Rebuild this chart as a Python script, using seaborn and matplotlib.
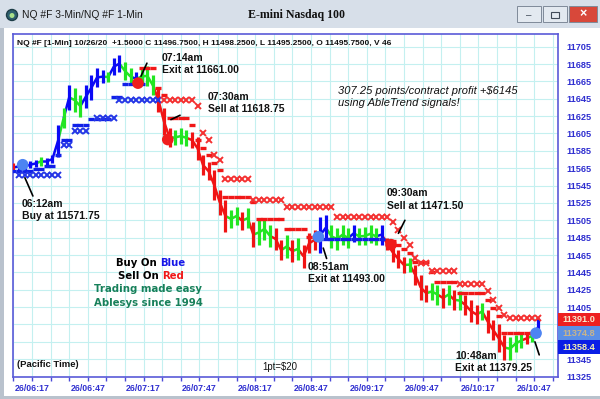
import numpy as np
import pandas as pd
import seaborn as sns
import matplotlib.pyplot as plt
from matplotlib.patches import Rectangle, Ellipse
from matplotlib.collections import LineCollection
import matplotlib.transforms as mtransforms

# 3-min bars, x = minutes after 06:00
bar_min = list(range(7, 290, 3))
bar_high = [11571, 11572, 11571, 11573, 11575, 11578, 11577, 11580, 11615, 11634,
            11661, 11657, 11649, 11661, 11672, 11680, 11678, 11676, 11692, 11695,
            11687, 11680, 11676, 11680, 11683, 11672, 11657, 11634, 11611, 11609,
            11611, 11609, 11607, 11601, 11580, 11572, 11563, 11540, 11528, 11517,
            11520, 11515, 11519, 11503, 11505, 11508, 11500, 11496, 11482, 11488,
            11482, 11485, 11477, 11490, 11494, 11509, 11511, 11500, 11496, 11500,
            11496, 11500, 11496, 11497, 11500, 11496, 11500, 11485, 11479, 11471,
            11463, 11462, 11454, 11442, 11431, 11433, 11431, 11427, 11431, 11425,
            11423, 11419, 11413, 11408, 11410, 11402, 11390, 11385, 11373, 11370,
            11373, 11375, 11376, 11379, 11393]
bar_low = [11561, 11562, 11563, 11565, 11566, 11568, 11569, 11571, 11578, 11611,
           11632, 11630, 11624, 11634, 11644, 11659, 11663, 11664, 11672, 11676,
           11667, 11661, 11660, 11661, 11660, 11649, 11630, 11603, 11589, 11592,
           11593, 11591, 11588, 11575, 11557, 11551, 11528, 11511, 11492, 11496,
           11500, 11494, 11496, 11474, 11477, 11482, 11474, 11471, 11459, 11462,
           11457, 11459, 11450, 11467, 11471, 11467, 11482, 11473, 11471, 11477,
           11473, 11480, 11477, 11477, 11479, 11477, 11477, 11471, 11457, 11450,
           11444, 11446, 11431, 11413, 11411, 11413, 11408, 11404, 11408, 11402,
           11402, 11396, 11388, 11385, 11390, 11375, 11367, 11353, 11344, 11344,
           11353, 11358, 11362, 11365, 11370]
bar_trend = ("rbbbbgbbbg" "bggbbbbgbb" "ggbgggrrrg" "ggrrrrrrrg" "grgrgggrrg"
             "rgrrrbbggg" "gbggggbrrr" "rgrrrggrgr" "grrrgrrrrg" "ggrgb")

# stop levels: (first bar minute, last bar minute, price)
blue_fast = [(7, 16, 11562), (19, 22, 11564), (25, 28, 11568), (31, 31, 11580),
             (34, 37, 11598), (40, 46, 11615), (49, 58, 11622), (61, 64, 11647),
             (67, 76, 11662), (172, 205, 11484)]
blue_slow = [(10, 31, 11557), (34, 37, 11592), (40, 46, 11608), (52, 61, 11623),
             (64, 85, 11644)]
red_fast = [(76, 82, 11680), (85, 85, 11657), (88, 88, 11649), (91, 100, 11623),
            (103, 103, 11615), (106, 106, 11598), (109, 109, 11588), (112, 112, 11580),
            (115, 115, 11571), (118, 118, 11563), (121, 133, 11532), (136, 136, 11526),
            (139, 151, 11507), (154, 163, 11495), (166, 169, 11486), (211, 211, 11481),
            (214, 214, 11477), (217, 217, 11472), (220, 220, 11467), (223, 229, 11457),
            (232, 232, 11446), (235, 244, 11434), (247, 259, 11421), (262, 262, 11413),
            (265, 265, 11404), (268, 268, 11395), (271, 286, 11375)]
red_slow = [(88, 103, 11644), (106, 106, 11637), (109, 109, 11606), (112, 112, 11598),
            (115, 115, 11580), (118, 118, 11575), (121, 133, 11553), (136, 151, 11528),
            (154, 178, 11520), (181, 208, 11509), (211, 211, 11503), (214, 214, 11494),
            (217, 217, 11485), (220, 220, 11476), (223, 223, 11462), (226, 229, 11456),
            (232, 244, 11447), (247, 259, 11432), (262, 262, 11423), (265, 265, 11413),
            (268, 268, 11404), (271, 271, 11396), (274, 289, 11393)]

# trade signals
sig_min = [12, 74, 90, 171, 210, 288]
sig_price = [11569, 11663, 11598, 11486, 11477, 11375]
sig_side = ['buy', 'sell', 'sell', 'buy', 'sell', 'buy']
sig_time = ['06:12am', '07:14am', '07:30am', '08:51am', '09:30am', '10:48am']
sig_text = ['Buy at 11571.75', 'Exit at 11661.00', 'Sell at 11618.75',
            'Exit at 11493.00', 'Sell at 11471.50', 'Exit at 11379.25']
label_pos = [(11.6, 11517), (86.9, 11685), (111.6, 11640), (165.4, 11444),
             (207.9, 11529), (244.4, 11342)]
arrow_tail = [(17.5, 11533), (78.8, 11686), (96.6, 11626), (175.4, 11461),
              (217.5, 11505), (289.7, 11350)]
arrow_tip = [(13.2, 11554), (75.6, 11671), (91.7, 11621), (173.6, 11473),
             (214.0, 11490), (287.4, 11365)]

tick_min = list(range(17, 300, 30))
tick_labels = ['26/06:17', '26/06:47', '26/07:17', '26/07:47', '26/08:17',
               '26/08:47', '26/09:17', '26/09:47', '26/10:17', '26/10:47']
price_ticks = list(range(11325, 11706, 20))
tag_values = [11391.04, 11374.83, 11358.42]
tag_labels = ['11391.0', '11374.8', '11358.4']
tag_colors = ['#ee2020', '#5b8fe6', '#0a1ee6']
tag_text_colors = ['#f7e8cc', '#c9b48a', '#f4f0b0']

sns.set_style('white')
plt.rcParams['font.family'] = ['Liberation Sans', 'DejaVu Sans']

trend_colors = {'b': '#0a0af5', 'r': '#f01414', 'g': '#22e622'}
axis_blue = '#2f2fd0'


def expand(steps):
    xs, ys = [], []
    for first, last, level in steps:
        for m in range(first, last + 1, 3):
            xs.append(m)
            ys.append(level)
    return xs, ys


fig = plt.figure(figsize=(6, 3.99), dpi=100)

# window chrome
fig.patches.append(Rectangle((0, 1 - 28 / 399), 1, 28 / 399, transform=fig.transFigure,
                             facecolor='#d7dfe9', edgecolor='none'))
fig.patches.append(Rectangle((0, 0), 4 / 600, 1 - 28 / 399, transform=fig.transFigure,
                             facecolor='#b9c2cd', edgecolor='none'))
fig.patches.append(Rectangle((0, 0), 1, 3 / 399, transform=fig.transFigure,
                             facecolor='#b9c2cd', edgecolor='none'))
fig.patches.append(Ellipse((12 / 600, 1 - 15 / 399), 11 / 600, 11 / 399,
                           transform=fig.transFigure, facecolor='#2d5f6e', edgecolor='#1c3c46'))
fig.patches.append(Ellipse((12 / 600, 1 - 15.5 / 399), 5 / 600, 5 / 399,
                           transform=fig.transFigure, facecolor='#a8e08a', edgecolor='none'))
fig.text(22 / 600, 1 - 15 / 399, 'NQ #F 3-Min/NQ #F 1-Min', fontsize=7.4,
         va='center', ha='left', color='#1a1a1a')
fig.text(297 / 600, 1 - 15 / 399, 'E-mini Nasdaq 100', fontsize=8.6, fontweight='bold',
         family='Liberation Serif', va='center', ha='center', color='#111111')
for x0, w, fc in [(517, 24, '#e3e9f0'), (543, 24, '#e3e9f0'), (569, 28, '#d8483a')]:
    fig.patches.append(Rectangle((x0 / 600, 1 - 22 / 399), w / 600, 16 / 399,
                                 transform=fig.transFigure, facecolor=fc,
                                 edgecolor='#7f8a99', linewidth=0.7))
fig.text(529 / 600, 1 - 15 / 399, '–', fontsize=7, ha='center', va='center', color='#404a58')
fig.patches.append(Rectangle((551 / 600, 1 - 18 / 399), 8 / 600, 6 / 399, transform=fig.transFigure,
                             facecolor='none', edgecolor='#404a58', linewidth=0.8))
fig.text(583 / 600, 1 - 14.5 / 399, '×', fontsize=9, fontweight='bold', ha='center',
         va='center', color='white')

ax = fig.add_axes([13 / 600, 22 / 399, 545 / 600, 343 / 399])
ax.set_facecolor('white')

# price bars
colors = [trend_colors[c] for c in bar_trend]
mids = (np.array(bar_high) + np.array(bar_low)) / 2
segs = [[(bar_min[i - 1], mids[i - 1]), (bar_min[i], mids[i])] for i in range(1, len(bar_min))]
ax.add_collection(LineCollection(segs, colors=colors[1:], linewidths=1.8, zorder=3))
ax.vlines(bar_min, bar_low, bar_high, colors=colors, linewidth=2.3, zorder=3)

# stop lines
for steps, col in [(blue_fast, '#1020e8'), (red_fast, '#f01818')]:
    xs, ys = expand(steps)
    ax.plot(xs, ys, linestyle='none', marker='_', markersize=4.1, markeredgewidth=2.4,
            color=col, zorder=4)
for steps, col in [(blue_slow, '#2436e6'), (red_slow, '#f43030')]:
    xs, ys = expand(steps)
    ax.plot(xs, ys, linestyle='none', marker='x', markersize=4.8, markeredgewidth=1.4,
            color=col, zorder=4)

# trade signals
sig_df = pd.DataFrame({'minute': sig_min, 'price': sig_price, 'side': sig_side})
sns.scatterplot(data=sig_df, x='minute', y='price', hue='side',
                palette={'buy': '#4d84f2', 'sell': '#f01c1c'}, s=70, linewidth=0,
                legend=False, zorder=5, ax=ax)
for t, s, pos, tail, tip in zip(sig_time, sig_text, label_pos, arrow_tail, arrow_tip):
    ax.text(pos[0], pos[1], t + '\n' + s, fontsize=7.5, fontweight='bold', ha='left',
            va='center', linespacing=1.3, color='#111111', zorder=6)
    ax.annotate('', xy=tip, xytext=tail,
                arrowprops=dict(arrowstyle='-', color='black', lw=1.2, shrinkA=0, shrinkB=0),
                zorder=6)

# axes formatting
ax.set_xlim(6.8, 299.8)
ax.set_ylim(11324.5, 11719.6)
ax.set_xticks(tick_min)
ax.set_xticklabels(tick_labels)
ax.set_xticks(list(range(7, 300, 10)), minor=True)
ax.set_yticks(price_ticks)
# labels hidden behind the last-price tags are left blank
hidden = [v for v in price_ticks if tag_values[-1] - 10 < v < tag_values[0] + 10]
ax.set_yticklabels(['' if v in hidden else str(v) for v in price_ticks])
ax.yaxis.tick_right()
ax.grid(which='both', axis='x', color='#c4f0f0', linewidth=0.8, zorder=0)
ax.grid(which='major', axis='y', color='#c4f0f0', linewidth=0.8, zorder=0)
ax.set_axisbelow(True)
ax.tick_params(axis='x', which='both', length=3, width=1, color='#4a4ad8', direction='out',
               pad=2, labelsize=6.3, labelcolor=axis_blue, bottom=True)
ax.tick_params(axis='y', length=0, pad=6, labelsize=6.6, labelcolor=axis_blue, right=True)
for lbl in ax.get_xticklabels() + ax.get_yticklabels():
    lbl.set_fontweight('bold')
for sp in ax.spines.values():
    sp.set_visible(True)
    sp.set_color('#5a5ad8')
    sp.set_linewidth(1.2)
ax.set_xlabel('')
ax.set_ylabel('')

# last price tags on the right
trans = mtransforms.blended_transform_factory(ax.transAxes, ax.transData)
edges = [tag_values[0] + 7.5, (tag_values[0] + tag_values[1]) / 2,
         (tag_values[1] + tag_values[2]) / 2, tag_values[2] - 7.5]
for i, (val, lab, fc, tc) in enumerate(zip(tag_values, tag_labels, tag_colors, tag_text_colors)):
    ax.add_patch(Rectangle((1.0, edges[i + 1]), 0.12, edges[i] - edges[i + 1], transform=trans,
                           facecolor=fc, edgecolor='none', clip_on=False, zorder=7))
    ax.text(1.008, val, lab, transform=trans, fontsize=6.6, fontweight='bold',
            color=tc, ha='left', va='center', clip_on=False, zorder=8)

# chart texts
ax.text(0.0073, 0.971, 'NQ #F [1-Min] 10/26/20  +1.5000 C 11496.7500, H 11498.2500, '
        'L 11495.2500, O 11495.7500, V 46', transform=ax.transAxes, fontsize=6,
        fontweight='bold', ha='left', va='center', color='#111111')
ax.text(0.596, 0.815, '307.25 points/contract profit +$6145\nusing AbleTrend signals!',
        transform=ax.transAxes, fontsize=8, fontstyle='italic', ha='left', va='center',
        linespacing=1.25, color='#111111')
ax.text(0.2695, 0.332, 'Buy On ', transform=ax.transAxes, fontsize=7.3, fontweight='bold',
        family='DejaVu Sans', ha='right', va='center', color='black')
ax.text(0.2695, 0.332, 'Blue', transform=ax.transAxes, fontsize=7.3, fontweight='bold',
        family='DejaVu Sans', ha='left', va='center', color='#1616e8')
ax.text(0.273, 0.294, 'Sell On ', transform=ax.transAxes, fontsize=7.3, fontweight='bold',
        family='DejaVu Sans', ha='right', va='center', color='black')
ax.text(0.273, 0.294, 'Red', transform=ax.transAxes, fontsize=7.3, fontweight='bold',
        family='DejaVu Sans', ha='left', va='center', color='#f01818')
ax.text(0.2477, 0.257, 'Trading made easy', transform=ax.transAxes, fontsize=7.3,
        fontweight='bold', family='DejaVu Sans', ha='center', va='center', color='#17805a')
ax.text(0.2477, 0.216, 'Ablesys since 1994', transform=ax.transAxes, fontsize=7.3,
        fontweight='bold', family='DejaVu Sans', ha='center', va='center', color='#17805a')
ax.text(0.0073, 0.035, '(Pacific Time)', transform=ax.transAxes, fontsize=6.8,
        fontweight='bold', ha='left', va='center', color='#111111')
ax.text(0.457, 0.029, '1pt=$20', transform=ax.transAxes, fontsize=6.9,
        ha='left', va='center', color='#111111')

fig.savefig('out.png', dpi=100)
